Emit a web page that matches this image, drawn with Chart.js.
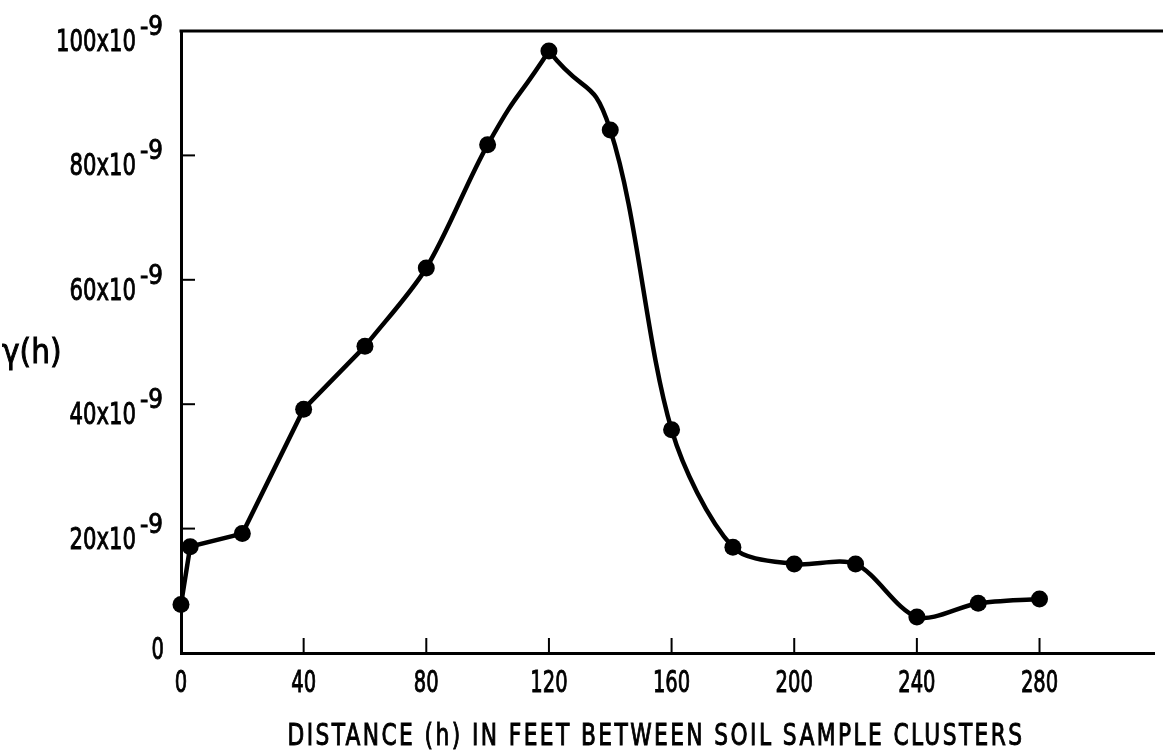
<!DOCTYPE html>
<html>
<head>
<meta charset="utf-8">
<script src="https://cdn.jsdelivr.net/npm/chart.js@4/dist/chart.umd.min.js"></script>
<style>
  html, body { margin: 0; padding: 0; background: #fff; overflow: hidden; }
  canvas { display: block; }
</style>
</head>
<body>
<canvas id="c" width="1163" height="753"></canvas>
<script>
// Semivariogram: distance between soil sample clusters (ft) vs gamma(h), in units of 10^-9
const distances   = [0, 3, 20, 40, 60, 80, 100, 120, 140, 160, 180, 200, 220, 240, 260, 280];
const gammaValues = [7.8, 17.1, 19.2, 39.2, 49.3, 61.9, 81.7, 96.8, 84.1, 35.9, 17.0, 14.3, 14.3, 5.8, 8.0, 8.7];

const xTickValues = [0, 40, 80, 120, 160, 200, 240, 280];
const yTickValues = [0, 20, 40, 60, 80, 100];
const yExponent   = '-9';

const xTitle = 'DISTANCE (h) IN FEET BETWEEN SOIL SAMPLE CLUSTERS';
const yTitle = 'γ(h)';

const FONT = '"DejaVu Sans Condensed", "DejaVu Sans", sans-serif';
const INK = '#000';
const NARROW = 0.7;

const points = distances.map((d, i) => ({ x: d, y: gammaValues[i] }));

// The curve is ruled straight up to 60 ft and drawn freehand-smooth after that,
// with a tighter bend on both shoulders of the 120 ft peak. Each piece is a run of
// points [first, last] plus the index range (within the run) that is actually inked.
const pieces = [
  { run: [0, 4],  ink: [0, 4],  tension: 0 },    // 0 - 60 ft, straight
  { run: [4, 7],  ink: [0, 2],  tension: 0.3 },  // 60 - 100 ft
  { run: [5, 7],  ink: [1, 2],  tension: 0.6 },  // 100 - 120 ft shoulder
  { run: [7, 9],  ink: [0, 1],  tension: 0.6 },  // 120 - 140 ft shoulder
  { run: [7, 15], ink: [1, 8],  tension: 0.3 }   // 140 - 280 ft
];

// Draw text squeezed horizontally to mimic a condensed typeface
function narrowText(ctx, text, x, y, size, align, sx) {
  ctx.save();
  ctx.font = `${size}px ${FONT}`;
  ctx.textAlign = align;
  ctx.textBaseline = 'alphabetic';
  ctx.translate(x, y);
  ctx.scale(sx, 1);
  ctx.fillText(text, 0, 0);
  ctx.lineWidth = 0.9;
  ctx.strokeText(text, 0, 0);
  ctx.restore();
}
function textWidth(ctx, text, size, sx) {
  ctx.save();
  ctx.font = `${size}px ${FONT}`;
  const w = ctx.measureText(text).width * sx;
  ctx.restore();
  return w;
}

// Frame top line, inward tick marks, tick labels and axis titles
const decor = {
  id: 'decor',
  afterDraw(chart) {
    const { ctx, chartArea: a, scales: { x, y } } = chart;
    ctx.save();
    ctx.strokeStyle = INK;
    ctx.fillStyle = INK;

    ctx.lineWidth = 3;
    ctx.beginPath();
    ctx.moveTo(a.left - 1.5, a.top);
    ctx.lineTo(chart.width, a.top);
    ctx.stroke();

    ctx.lineWidth = 2;
    x.ticks.forEach(t => {
      if (t.value === x.min) return;
      const px = x.getPixelForValue(t.value);
      ctx.beginPath();
      ctx.moveTo(px, a.bottom);
      ctx.lineTo(px, a.bottom - 15);
      ctx.stroke();
    });
    y.ticks.forEach(t => {
      if (t.value === y.min || t.value === y.max) return;
      const py = y.getPixelForValue(t.value);
      ctx.beginPath();
      ctx.moveTo(a.left, py);
      ctx.lineTo(a.left + 14, py);
      ctx.stroke();
    });

    // x tick labels
    x.ticks.forEach(t => {
      const px = x.getPixelForValue(t.value);
      narrowText(ctx, String(t.value), px, a.bottom + 39, 31, 'center', NARROW);
    });

    // y tick labels in scientific form
    y.ticks.forEach(t => {
      const py = y.getPixelForValue(t.value);
      if (t.value === 0) {
        narrowText(ctx, '0', a.left - 17, py + 6, 31, 'right', NARROW);
        return;
      }
      const supRight = a.left - 18;
      const supSx = 0.95;
      const supW = textWidth(ctx, yExponent, 27, supSx);
      narrowText(ctx, yExponent, supRight, py + 4, 27, 'right', supSx);
      narrowText(ctx, `${t.value}x10`, supRight - supW - 4, py + 20, 31, 'right', 0.76);
    });

    // axis titles
    narrowText(ctx, yTitle, 2, 363, 33, 'left', 1.0);

    ctx.save();
    ctx.font = `30px ${FONT}`;
    ctx.letterSpacing = '3px';
    const natural = ctx.measureText(xTitle).width;
    ctx.textAlign = 'center';
    ctx.translate(656, 745);
    ctx.scale(737 / natural, 1);
    ctx.fillText(xTitle, 0, 0);
    ctx.lineWidth = 0.9;
    ctx.strokeText(xTitle, 0, 0);
    ctx.restore();

    ctx.restore();
  }
};

const lineDatasets = pieces.map(p => ({
  data: points.slice(p.run[0], p.run[1] + 1),
  tension: p.tension,
  borderColor: INK,
  borderWidth: 4.5,
  segment: {
    borderColor: c => (c.p0DataIndex >= p.ink[0] && c.p1DataIndex <= p.ink[1]) ? INK : 'rgba(0,0,0,0)'
  },
  pointRadius: 0,
  fill: false,
  clip: false
}));

new Chart(document.getElementById('c'), {
  type: 'line',
  data: {
    datasets: [
      ...lineDatasets,
      {
        data: points,
        showLine: false,
        pointRadius: 8.5,
        pointBorderWidth: 0,
        pointBackgroundColor: INK,
        clip: false
      }
    ]
  },
  options: {
    responsive: false,
    animation: false,
    devicePixelRatio: 1,
    layout: { padding: { top: 31, left: 0, right: 0, bottom: 0 } },
    plugins: { legend: { display: false }, tooltip: { enabled: false } },
    scales: {
      x: {
        type: 'linear',
        min: 0,
        max: 317.5,
        afterBuildTicks: s => { s.ticks = xTickValues.map(v => ({ value: v })); },
        afterFit: s => { s.height = 100; },
        grid: { display: false, drawTicks: false },
        border: { display: true, color: INK, width: 3 },
        ticks: { display: false }
      },
      y: {
        type: 'linear',
        min: 0,
        max: 100,
        afterBuildTicks: s => { s.ticks = yTickValues.map(v => ({ value: v })); },
        afterFit: s => { s.width = 181; },
        grid: { display: false, drawTicks: false },
        border: { display: true, color: INK, width: 3 },
        ticks: { display: false }
      }
    }
  },
  plugins: [decor]
});
</script>
</body>
</html>
